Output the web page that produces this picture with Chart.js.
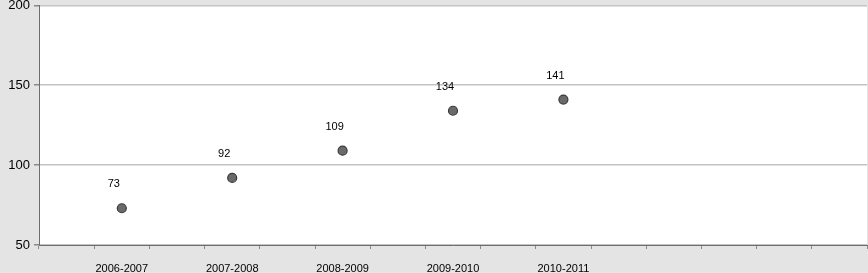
<!DOCTYPE html>
<html>
<head>
<meta charset="utf-8">
<script src="https://cdn.jsdelivr.net/npm/chart.js@4"></script>
<style>
  html, body { margin: 0; padding: 0; background: #e4e4e4; }
  #wrap { width: 868px; height: 273px; position: relative; }
</style>
</head>
<body>
<div id="wrap"><canvas id="seasonChart"></canvas></div>
<script>
// data
const seasons = ["2006-2007", "2007-2008", "2008-2009", "2009-2010", "2010-2011"];
const counts = [73, 92, 109, 134, 141];
const yTicks = [50, 100, 150, 200];
const slotCount = 15; // the x axis has 15 tick slots, a season every second one

// build the category table: seasons sit in the odd slots
const slotLabels = [];
const slotValues = [];
for (let i = 0; i < slotCount; i++) {
  const k = (i - 1) / 2;
  if (i % 2 === 1 && k < seasons.length) {
    slotLabels.push(seasons[k]);
    slotValues.push(counts[k]);
  } else {
    slotLabels.push("");
    slotValues.push(null);
  }
}

// grey page, white plot area
const backdrop = {
  id: "backdrop",
  beforeDraw(chart) {
    const { ctx, chartArea } = chart;
    ctx.save();
    ctx.fillStyle = "#e4e4e4";
    ctx.fillRect(0, 0, chart.width, chart.height);
    ctx.fillStyle = "#ffffff";
    ctx.fillRect(chartArea.left, chartArea.top, chartArea.right - chartArea.left, chartArea.bottom - chartArea.top);
    ctx.restore();
  },
};

// value labels above-left of each point
const valueLabels = {
  id: "valueLabels",
  afterDatasetsDraw(chart) {
    const { ctx } = chart;
    const meta = chart.getDatasetMeta(0);
    ctx.save();
    ctx.font = "11px 'Liberation Sans', Arial, sans-serif";
    ctx.fillStyle = "#000";
    ctx.textAlign = "center";
    ctx.textBaseline = "middle";
    meta.data.forEach((pt, i) => {
      const v = slotValues[i];
      if (v === null) return;
      ctx.fillText(String(v), pt.x - 8, pt.y - 24);
    });
    ctx.restore();
  },
};

new Chart(document.getElementById("seasonChart"), {
  type: "line",
  data: {
    labels: slotLabels,
    datasets: [
      {
        data: slotValues,
        showLine: false,
        pointRadius: 4.5,
        pointBorderWidth: 1.2,
        pointBackgroundColor: "#6a6a6a",
        pointBorderColor: "#3a3a3a",
      },
    ],
  },
  options: {
    responsive: true,
    maintainAspectRatio: false,
    animation: false,
    layout: { autoPadding: false, padding: { top: 5, right: 1, left: 0, bottom: 0 } },
    plugins: {
      legend: { display: false },
      tooltip: { enabled: false },
    },
    scales: {
      x: {
        offset: true,
        grid: {
          offset: true,
          drawOnChartArea: false,
          drawTicks: true,
          tickLength: 4,
          tickColor: "#8a8a8a",
        },
        border: { color: "#6e6e6e", width: 1 },
        ticks: {
          autoSkip: false,
          maxRotation: 0,
          padding: 13,
          color: "#000",
          font: { family: "'Liberation Sans', Arial, sans-serif", size: 11 },
        },
        afterFit(scale) {
          scale.height = 28;
          scale.paddingLeft = 0;
          scale.paddingRight = 0;
        },
      },
      y: {
        min: 50,
        max: 200,
        afterBuildTicks(scale) {
          scale.ticks = yTicks.map((v) => ({ value: v }));
        },
        grid: {
          color: "#c4c4c4",
          lineWidth: 1.5,
          tickLength: 5,
          tickColor: "#8a8a8a",
        },
        border: { color: "#6e6e6e", width: 1 },
        ticks: {
          padding: 4,
          color: "#000",
          font: { family: "'Liberation Sans', Arial, sans-serif", size: 13, lineHeight: 0.2 },
        },
        afterFit(scale) {
          scale.width = 39;
        },
      },
    },
  },
  plugins: [backdrop, valueLabels],
});
</script>
</body>
</html>
